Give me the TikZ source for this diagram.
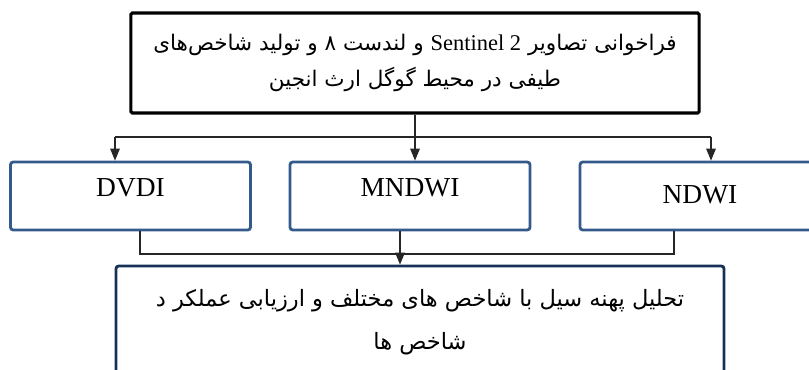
\documentclass[tikz,border=0pt]{standalone}
\usepackage{fontspec}
\setmainfont{Liberation Serif}
\newfontfamily\farsi[Script=Arabic]{DejaVu Sans}
\TeXXeTstate=1
\usetikzlibrary{arrows.meta,positioning}
\definecolor{boxblue}{RGB}{52,90,140}
\definecolor{boxnavy}{RGB}{22,48,88}
\tikzset{
  srcbox/.style={draw=black,line width=2.2pt,rounded corners=1pt,align=center,
    minimum width=14.2cm,minimum height=2.5cm,
    font=\farsi\fontsize{15.3}{26}\selectfont},
  idxbox/.style={draw=boxblue,line width=2pt,rounded corners=2pt,
    minimum width=6cm,minimum height=1.7cm,text height=13pt,text depth=13pt,
    font=\fontsize{19.5}{23}\selectfont},
  resbox/.style={draw=boxnavy,line width=2pt,rounded corners=2pt,align=center,
    minimum width=15.2cm,minimum height=2.8cm,
    font=\farsi\fontsize{16}{31}\selectfont},
  link/.style={draw=black!85,line width=0.8pt},
  >={Triangle[length=0.3cm,width=0.24cm]}
}
\begin{document}
\begin{tikzpicture}[x=0.025cm,y=-0.025cm]
\useasboundingbox (0,0) rectangle (809,369);
% \draw[help lines,step=50] (0,0) grid (809,369);
\node (src) [srcbox] at (415,63)
  {\beginR فراخوانی تصاویر \beginL{\rmfamily\fontsize{16}{26}\selectfont Sentinel 2}\endL{} و لندست ۸ و تولید شاخص‌های\endR\\
   \beginR طیفی در محیط گوگل ارث انجین\endR};
\node (dvdi) [idxbox] at (130.5,196) {DVDI};
\node (mndwi) [idxbox] at (410,196) {MNDWI};
\node (ndwi) [idxbox,text depth=3pt] at (700,196) {NDWI};
\node (res) [resbox] at (420,322)
  {\beginR تحلیل پهنه سیل با شاخص های مختلف و ارزیابی عملکر د\endR\\
   \beginR شاخص ها\endR};
%
\coordinate (bl) at (115,137);
\coordinate (br) at (711,137);
\draw[link] (bl) -- (br);
\draw[link,->] (bl) -- (bl |- dvdi.north);
\draw[link,->] (src.south) -- (src.south |- mndwi.north);
\draw[link,->] (br) -- (br |- ndwi.north);
%
\coordinate (cl) at (140,254);
\coordinate (cm) at (400,254);
\coordinate (cr) at (674,254);
\draw[link] (dvdi.south -| cl) -- (cl) -- (cr) -- (ndwi.south -| cr);
\draw[link,->] (mndwi.south -| cm) -- (cm |- res.north);
\end{tikzpicture}
\end{document}
